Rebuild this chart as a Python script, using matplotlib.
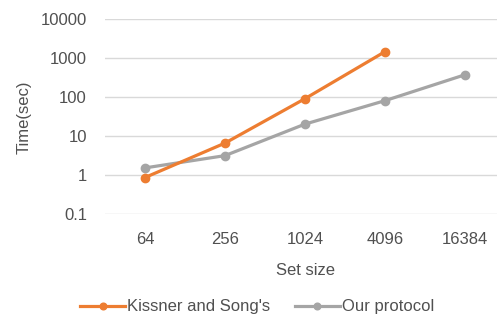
import matplotlib
matplotlib.use("Agg")
import matplotlib.pyplot as plt

set_sizes = ["64", "256", "1024", "4096", "16384"]
kissner_song = [0.85, 6.5, 90, 1450]
our_protocol = [1.5, 3.1, 20, 80, 370]
y_ticks = [0.1, 1, 10, 100, 1000, 10000]
y_tick_labels = ["0.1", "1", "10", "100", "1000", "10000"]

ORANGE = "#ed7d31"
GRAY = "#a5a5a5"
TEXT = "#505050"

plt.rcParams["font.family"] = ["Liberation Sans", "DejaVu Sans"]
plt.rcParams["font.size"] = 12

fig = plt.figure(figsize=(4.97, 3.22), dpi=100)
ax = fig.add_axes([105 / 497, 1 - 213.7 / 322, 400 / 497, (213.7 - 19) / 322])

x_kissner = list(range(len(kissner_song)))
x_ours = list(range(len(our_protocol)))
ax.plot(x_kissner, kissner_song, color=ORANGE, linewidth=2.3, marker="o",
        markersize=6, label="Kissner and Song's", zorder=3)
ax.plot(x_ours, our_protocol, color=GRAY, linewidth=2.3, marker="o",
        markersize=6, label="Our protocol", zorder=2)

ax.set_yscale("log")
ax.set_ylim(0.1, 10000)
ax.set_yticks(y_ticks)
ax.set_yticklabels(y_tick_labels)
ax.minorticks_off()
ax.set_xlim(-0.5, len(set_sizes) - 0.5)
ax.set_xticks(range(len(set_sizes)))
ax.set_xticklabels(set_sizes)

ax.grid(True, axis="y", color="#d9d9d9", linewidth=1.0)
ax.set_axisbelow(True)
for spine in ax.spines.values():
    spine.set_visible(False)
ax.tick_params(axis="both", length=0, colors=TEXT, labelsize=12)
ax.tick_params(axis="y", pad=13)
ax.tick_params(axis="x", pad=13)

ax.set_xlabel("Set size", color=TEXT, fontsize=12, labelpad=12)
fig.text(24 / 497, 1 - 117 / 322, "Time(sec)", rotation=90, color=TEXT,
         fontsize=12, ha="center", va="center")

fig.legend(loc="center", bbox_to_anchor=(257 / 497, 1 - 307 / 322), ncol=2,
           frameon=False, fontsize=12, labelcolor=TEXT, handlelength=2.7,
           columnspacing=1.5, handletextpad=0.1, markerscale=0.8)

fig.savefig("out.png", dpi=100)
